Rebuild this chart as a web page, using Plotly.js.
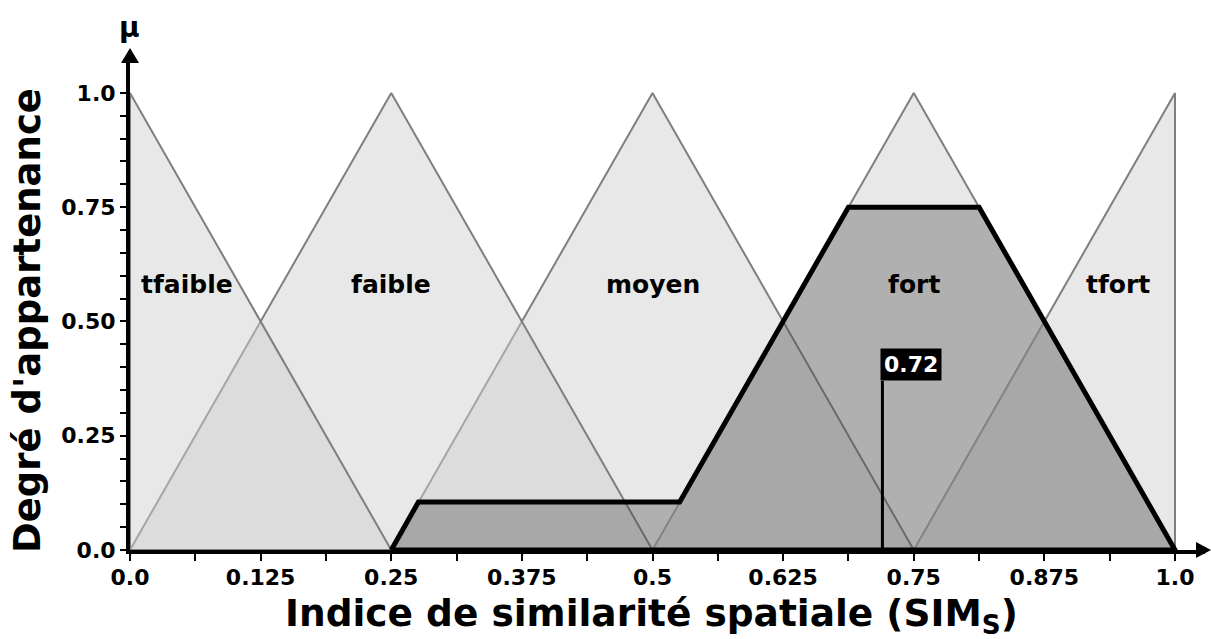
<!DOCTYPE html>
<html>
<head>
<meta charset="utf-8">
<script src="https://cdn.plot.ly/plotly-3.0.1.min.js"></script>
<style>
  html, body { margin: 0; padding: 0; background: #fff; }
  #chart { width: 1211px; height: 639px; }
</style>
</head>
<body>
<div id="chart"></div>
<script>
// Fuzzy sets of SIM_S (triangles)
const setNames = ['tfaible', 'faible', 'moyen', 'fort', 'tfort'];
const setX = [
    [0, 0, 0.25, 0],
    [0, 0.25, 0.5, 0],
    [0.25, 0.5, 0.75, 0.25],
    [0.5, 0.75, 1.0, 0.5],
    [0.75, 1.0, 1.0, 0.75]
];
const setY = [
    [0, 1, 0, 0],
    [0, 1, 0, 0],
    [0, 1, 0, 0],
    [0, 1, 0, 0],
    [0, 1, 0, 0]
];

// Aggregated (clipped) output
const aggX = [0.25, 0.276, 0.526, 0.6875, 0.8125, 1.0, 0.25];
const aggY = [0, 0.105, 0.105, 0.75, 0.75, 0, 0];

// Crisp value
const crispX = [0.72, 0.72];
const crispY = [0, 0.37];
const crispLabel = '0.72';

// Ticks
const xTickVals = [0, 0.125, 0.25, 0.375, 0.5, 0.625, 0.75, 0.875, 1.0];
const xTickText = ['0.0', '0.125', '0.25', '0.375', '0.5', '0.625', '0.75', '0.875', '1.0'];
const xMinorVals = [0.0625, 0.1875, 0.3125, 0.4375, 0.5625, 0.6875, 0.8125, 0.9375];
const yTickVals = [0, 0.25, 0.5, 0.75, 1.0];
const yTickText = ['0.0', '0.25', '0.50', '0.75', '1.0'];
const yMinorVals = [0.05, 0.1, 0.15, 0.2, 0.3, 0.35, 0.4, 0.45,
                    0.55, 0.6, 0.65, 0.7, 0.8, 0.85, 0.9, 0.95];

const FONT = 'DejaVu Sans, sans-serif';
const bold = (size, color) => ({ family: FONT, size: size, color: color || '#000', weight: 'bold' });

const traces = [];
// drawn last-to-first so the left sets sit on top
for (let i = setNames.length - 1; i >= 0; i--) {
    traces.push({
        x: setX[i], y: setY[i],
        name: setNames[i],
        type: 'scatter', mode: 'lines',
        fill: 'toself',
        fillcolor: 'rgba(207,207,207,0.48)',
        line: { color: '#7f7f7f', width: 2 },
        hoverinfo: 'skip'
    });
}
traces.push({
    x: aggX, y: aggY,
    name: 'agrégation',
    type: 'scatter', mode: 'lines',
    fill: 'toself',
    fillcolor: 'rgba(64,64,64,0.33)',
    line: { color: '#000', width: 5 },
    hoverinfo: 'skip'
});
traces.push({
    x: crispX, y: crispY,
    name: crispLabel,
    type: 'scatter', mode: 'lines',
    line: { color: '#000', width: 3 },
    hoverinfo: 'skip'
});

const labelPos = [[0.055, 0.58], [0.25, 0.58], [0.5, 0.58], [0.75, 0.58], [0.945, 0.58]];
const annotations = setNames.map((n, i) => ({
    x: labelPos[i][0], y: labelPos[i][1], xref: 'x', yref: 'y',
    text: n, showarrow: false, font: bold(25)
}));

annotations.push({
    x: 0.72, y: 0.37, xref: 'x', yref: 'y',
    xanchor: 'left', yanchor: 'bottom', xshift: -2,
    text: crispLabel, showarrow: false,
    bgcolor: '#000', borderpad: 3,
    font: bold(22, '#fff')
});
// mu
annotations.push({
    x: 0, y: 1.0, xref: 'paper', yref: 'paper', yshift: 10, xshift: -1,
    xanchor: 'center', yanchor: 'bottom',
    text: 'μ', showarrow: false, font: bold(28)
});
// axis titles
annotations.push({
    x: 0.485, y: 0, xref: 'paper', yref: 'paper', yshift: -65,
    xanchor: 'center', yanchor: 'middle',
    text: 'Indice de similarité spatiale (SIM<sub>S</sub>)', showarrow: false,
    font: bold(37.5)
});
annotations.push({
    x: 0, y: 0.4636, xref: 'paper', yref: 'paper', xshift: -102,
    xanchor: 'center', yanchor: 'middle', textangle: -90,
    text: "Degré d'appartenance", showarrow: false,
    font: bold(37)
});

// axis arrow heads (pixel-sized paths anchored at the axis ends)
const shapes = [
    {
        type: 'path', xref: 'paper', yref: 'paper',
        xsizemode: 'pixel', ysizemode: 'pixel', xanchor: 1, yanchor: 0,
        path: 'M -9 -8 L 6 0 L -9 8 Z',
        fillcolor: '#000', line: { width: 0 }
    },
    {
        type: 'path', xref: 'paper', yref: 'paper',
        xsizemode: 'pixel', ysizemode: 'pixel', xanchor: 0, yanchor: 1,
        path: 'M -9 -7 L 0 8 L 9 -7 Z',
        fillcolor: '#000', line: { width: 0 }
    }
];

const layout = {
    width: 1211, height: 639,
    paper_bgcolor: '#fff', plot_bgcolor: '#fff',
    showlegend: false,
    margin: { l: 130, r: 6, t: 56, b: 89 },
    font: { family: FONT, color: '#000' },
    xaxis: {
        range: [0, 1.0287],
        showgrid: false, zeroline: false,
        showline: true, linecolor: '#000', linewidth: 4,
        ticks: 'outside', ticklen: 7, tickwidth: 2, tickcolor: '#000',
        tickmode: 'array', tickvals: xTickVals, ticktext: xTickText,
        tickfont: bold(22), ticklabelstandoff: -2,
        minor: { tickmode: 'array', tickvals: xMinorVals, ticks: 'outside', ticklen: 7, tickwidth: 2, tickcolor: '#000', showgrid: false },
        fixedrange: true
    },
    yaxis: {
        range: [0, 1.0808],
        showgrid: false, zeroline: false,
        showline: true, linecolor: '#000', linewidth: 4,
        ticks: 'outside', ticklen: 6, tickwidth: 2, tickcolor: '#000',
        tickmode: 'array', tickvals: yTickVals, ticktext: yTickText,
        tickfont: bold(22),
        minor: { tickmode: 'array', tickvals: yMinorVals, ticks: 'outside', ticklen: 6, tickwidth: 2, tickcolor: '#000', showgrid: false },
        fixedrange: true
    },
    shapes: shapes,
    annotations: annotations
};

Plotly.newPlot('chart', traces, layout, { displayModeBar: false, staticPlot: true });
</script>
</body>
</html>
